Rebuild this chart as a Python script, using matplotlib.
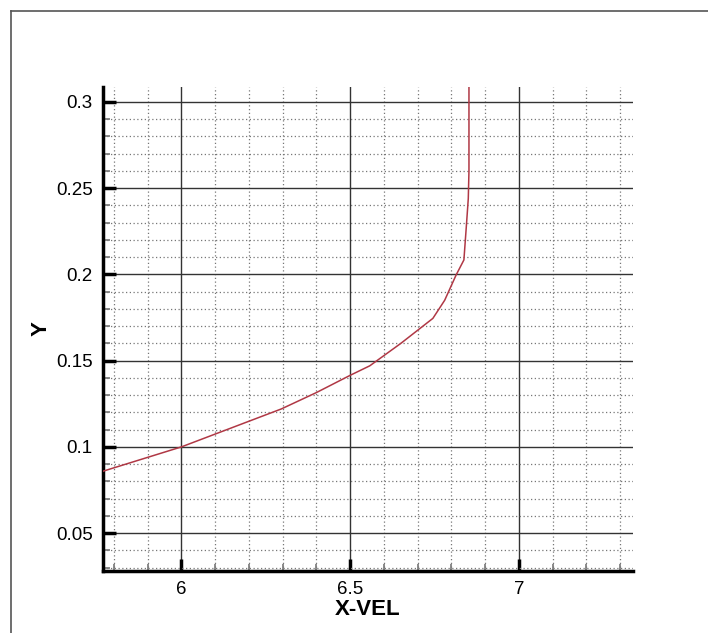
import numpy as np
import matplotlib
matplotlib.use("Agg")
import matplotlib.pyplot as plt
from matplotlib.ticker import MultipleLocator, FormatStrFormatter
from matplotlib.lines import Line2D

plt.rcParams['font.family'] = ['Liberation Sans', 'DejaVu Sans']

# velocity profile
x_vel = [5.70, 5.766, 6.0, 6.296, 6.40, 6.50, 6.558, 6.65, 6.745, 6.78,
         6.814, 6.837, 6.845, 6.850, 6.852, 6.852]
y_pos = [0.0818, 0.0858, 0.100, 0.122, 0.1315, 0.1415, 0.147, 0.160, 0.1745,
         0.185, 0.1997, 0.2084, 0.230, 0.244, 0.26, 0.32]

xlim = (5.766, 7.338)
ylim = (0.028, 0.3087)

fig = plt.figure(figsize=(7.08, 6.33), dpi=100)
ax = fig.add_axes([0.1448, 0.0979, 0.894 - 0.1448, 0.8626 - 0.0979])

# outer frame (partly cut off in the original)
fig.add_artist(Line2D([11 / 708, 11 / 708], [0, 1 - 11 / 633], color='#555555', lw=1.2))
fig.add_artist(Line2D([11 / 708, 1], [1 - 11 / 633, 1 - 11 / 633], color='#555555', lw=1.2))

ax.plot(x_vel, y_pos, color='#b03845', lw=1.1, zorder=3)

ax.set_xlim(*xlim)
ax.set_ylim(*ylim)

ax.xaxis.set_major_locator(MultipleLocator(0.5))
ax.xaxis.set_minor_locator(MultipleLocator(0.1))
ax.yaxis.set_major_locator(MultipleLocator(0.05))
ax.yaxis.set_minor_locator(MultipleLocator(0.01))
ax.xaxis.set_major_formatter(FormatStrFormatter('%g'))
ax.yaxis.set_major_formatter(FormatStrFormatter('%g'))

ax.grid(which='major', color='#333333', lw=1.0, ls='-')
ax.grid(which='minor', color='#777777', lw=0.9, ls=(0, (1, 2)))
ax.set_axisbelow(True)

for side in ['top', 'right']:
    ax.spines[side].set_visible(False)
for side in ['left', 'bottom']:
    ax.spines[side].set_linewidth(2.5)

ax.tick_params(which='major', direction='in', length=9, width=2.5,
               labelsize=13.5, pad=7)
ax.tick_params(which='minor', direction='in', length=5, width=1.2, color='#777777')

ax.set_xlabel('X-VEL', fontsize=16, fontweight='bold', labelpad=1)
ax.set_ylabel('Y', fontsize=16, fontweight='bold', labelpad=3)

fig.savefig('out.png', dpi=100)
